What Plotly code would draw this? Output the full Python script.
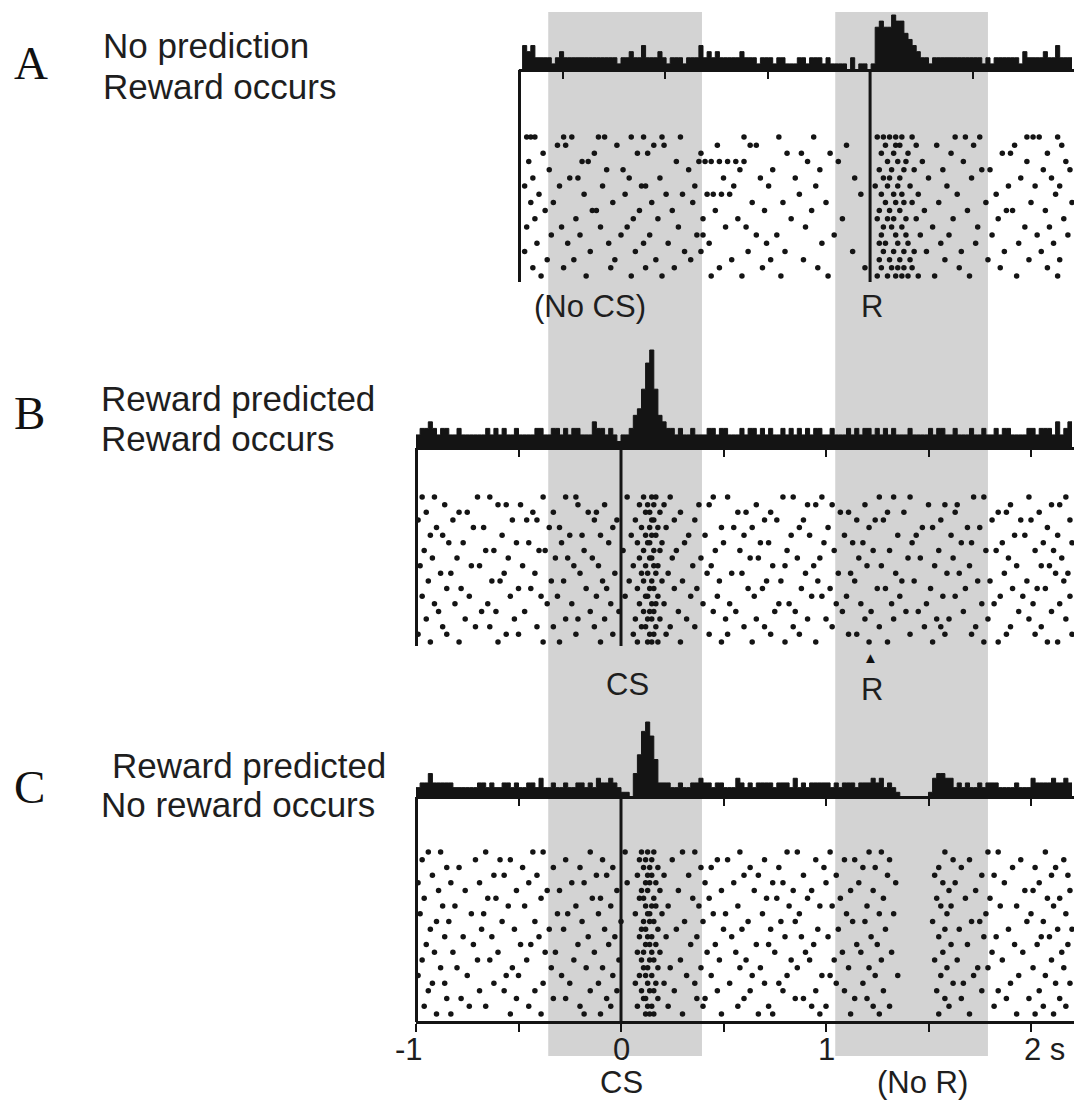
import numpy as np
import plotly.graph_objects as go

# ---------------- data (seconds, on the CS-aligned time axis) ----------------
bin_width = 0.02
band_starts = [-0.355, 1.045]
band_ends = [0.395, 1.790]
reward_time = 1.215
cs_time = 0.0
hist_ticks = [-1, -0.5, 0, 0.5, 1, 1.5, 2]
axis_ticks = [-1, -0.5, 0, 0.5, 1, 1.5, 2]
label_vals = [-1, 0, 1, 2]
label_text = ["-1", "0", "1", "2 s"]

trials_A = [
    [-0.46, -0.44, -0.42, -0.28, -0.24, -0.11, -0.08, 0.05, 0.11, 0.20, 0.29, 0.60, 0.77, 0.94, 1.25, 1.28, 1.31, 1.34, 1.37, 1.42, 1.63, 1.68, 1.75, 1.98, 2.01, 2.04, 2.13],
    [-0.31, -0.27, -0.02, 0.16, 0.21, 0.47, 0.63, 0.66, 1.10, 1.29, 1.34, 1.36, 1.44, 1.54, 1.72, 1.92, 2.15],
    [-0.38, -0.13, 0.08, 0.13, 0.39, 0.81, 0.88, 1.02, 1.27, 1.33, 1.40, 1.61, 1.86, 1.90, 2.08],
    [-0.45, -0.19, -0.16, 0.27, 0.38, 0.41, 0.44, 0.48, 0.52, 0.56, 0.60, 0.91, 1.06, 1.30, 1.35, 1.39, 1.47, 1.67, 1.98, 2.17],
    [-0.35, -0.07, 0.01, 0.33, 0.58, 0.74, 0.97, 1.26, 1.32, 1.38, 1.43, 1.57, 1.76, 1.80, 2.06, 2.19],
    [-0.43, -0.25, -0.21, 0.04, 0.19, 0.50, 0.68, 0.85, 1.14, 1.28, 1.31, 1.36, 1.50, 1.71, 1.95, 2.10],
    [-0.47, -0.30, -0.09, 0.10, 0.12, 0.36, 0.55, 0.72, 0.95, 1.24, 1.30, 1.35, 1.41, 1.59, 1.89, 2.02, 2.14],
    [-0.40, -0.18, 0.02, 0.22, 0.30, 0.42, 0.45, 0.49, 0.53, 0.87, 1.17, 1.27, 1.33, 1.37, 1.45, 1.64, 1.83, 2.12],
    [-0.44, -0.33, -0.04, 0.15, 0.35, 0.64, 0.79, 1.00, 1.29, 1.34, 1.38, 1.42, 1.55, 1.78, 2.00, 2.20],
    [-0.37, -0.14, -0.12, 0.09, 0.25, 0.46, 0.70, 0.93, 1.26, 1.31, 1.36, 1.48, 1.69, 1.88, 1.91, 2.07],
    [-0.42, -0.22, 0.06, 0.18, 0.40, 0.57, 0.83, 1.08, 1.25, 1.30, 1.33, 1.39, 1.44, 1.62, 1.84, 2.16],
    [-0.46, -0.29, -0.10, 0.03, 0.28, 0.51, 0.61, 0.90, 1.28, 1.32, 1.37, 1.52, 1.74, 1.97, 2.09],
    [-0.34, -0.20, 0.00, 0.14, 0.37, 0.40, 0.66, 0.76, 1.04, 1.27, 1.34, 1.39, 1.46, 1.60, 1.81, 2.03, 2.18],
    [-0.41, -0.26, -0.06, 0.11, 0.23, 0.43, 0.71, 0.98, 1.26, 1.29, 1.35, 1.40, 1.56, 1.73, 1.94, 2.11],
    [-0.47, -0.15, 0.07, 0.31, 0.39, 0.62, 0.80, 1.13, 1.28, 1.33, 1.38, 1.43, 1.49, 1.66, 1.87, 2.05],
    [-0.36, -0.23, -0.03, 0.17, 0.34, 0.54, 0.73, 0.89, 1.26, 1.31, 1.36, 1.41, 1.58, 1.79, 1.99, 2.14],
    [-0.43, -0.28, -0.05, 0.12, 0.26, 0.48, 0.69, 0.96, 1.19, 1.27, 1.32, 1.35, 1.38, 1.42, 1.65, 1.85, 2.08],
    [-0.39, -0.17, 0.05, 0.20, 0.44, 0.59, 0.78, 1.01, 1.25, 1.30, 1.34, 1.37, 1.40, 1.45, 1.53, 1.70, 1.93, 2.13],
]

trials_B = [
    [-0.97, -0.91, -0.70, -0.64, -0.38, -0.27, -0.22, 0.03, 0.11, 0.15, 0.17, 0.24, 0.45, 0.52, 0.79, 0.84, 0.98, 1.26, 1.33, 1.41, 1.72, 1.77, 1.99, 2.17],
    [-0.86, -0.60, -0.56, -0.49, -0.21, -0.08, 0.09, 0.13, 0.16, 0.21, 0.38, 0.43, 0.66, 0.91, 0.95, 1.03, 1.19, 1.50, 1.58, 1.64, 1.90, 2.10, 2.14],
    [-0.95, -0.79, -0.75, -0.43, -0.33, -0.16, -0.12, 0.12, 0.14, 0.19, 0.29, 0.57, 0.61, 0.73, 1.07, 1.11, 1.30, 1.38, 1.63, 1.84, 1.88, 2.04],
    [-0.99, -0.82, -0.53, -0.46, -0.41, -0.13, -0.02, 0.07, 0.15, 0.16, 0.26, 0.36, 0.70, 0.76, 0.89, 1.15, 1.24, 1.28, 1.56, 1.81, 1.95, 2.00, 2.19],
    [-0.90, -0.72, -0.67, -0.35, -0.30, -0.04, 0.10, 0.14, 0.18, 0.22, 0.49, 0.55, 0.64, 0.87, 1.01, 1.21, 1.47, 1.52, 1.69, 1.75, 2.08],
    [-0.93, -0.87, -0.58, -0.25, -0.19, -0.10, 0.05, 0.12, 0.15, 0.17, 0.33, 0.41, 0.60, 0.83, 0.92, 1.09, 1.35, 1.44, 1.61, 1.92, 1.97, 2.13],
    [-0.84, -0.77, -0.51, -0.45, -0.29, -0.06, 0.08, 0.13, 0.14, 0.20, 0.31, 0.50, 0.68, 0.72, 0.99, 1.13, 1.18, 1.42, 1.66, 1.71, 1.86, 2.06, 2.20],
    [-0.96, -0.66, -0.62, -0.40, -0.37, -0.18, 0.01, 0.11, 0.16, 0.19, 0.27, 0.46, 0.58, 0.81, 1.04, 1.23, 1.31, 1.55, 1.78, 1.83, 2.02, 2.11],
    [-0.92, -0.80, -0.55, -0.32, -0.26, -0.14, 0.09, 0.14, 0.15, 0.25, 0.39, 0.63, 0.67, 0.86, 0.97, 1.16, 1.40, 1.46, 1.62, 1.89, 2.15],
    [-0.98, -0.73, -0.69, -0.48, -0.23, -0.11, 0.06, 0.12, 0.16, 0.18, 0.35, 0.44, 0.74, 0.80, 0.94, 1.20, 1.27, 1.53, 1.70, 1.93, 2.05, 2.09],
    [-0.88, -0.83, -0.57, -0.42, -0.20, -0.03, 0.10, 0.13, 0.17, 0.23, 0.42, 0.54, 0.59, 0.90, 1.06, 1.12, 1.34, 1.59, 1.65, 1.87, 2.12, 2.18],
    [-0.94, -0.63, -0.59, -0.34, -0.28, -0.09, 0.04, 0.11, 0.15, 0.20, 0.30, 0.48, 0.71, 0.78, 0.96, 1.14, 1.37, 1.43, 1.74, 1.80, 1.98, 2.16],
    [-0.85, -0.78, -0.50, -0.44, -0.17, -0.07, 0.08, 0.14, 0.16, 0.26, 0.37, 0.62, 0.69, 0.88, 1.02, 1.25, 1.29, 1.51, 1.68, 1.91, 2.03, 2.07],
    [-0.97, -0.74, -0.54, -0.39, -0.31, -0.12, 0.02, 0.12, 0.13, 0.18, 0.34, 0.47, 0.65, 0.93, 0.98, 1.10, 1.36, 1.57, 1.63, 1.85, 1.96, 2.19],
    [-0.91, -0.81, -0.65, -0.36, -0.24, -0.05, 0.09, 0.15, 0.17, 0.21, 0.40, 0.53, 0.77, 0.82, 1.05, 1.17, 1.32, 1.49, 1.76, 1.82, 2.01, 2.14],
    [-0.89, -0.68, -0.61, -0.47, -0.15, -0.01, 0.11, 0.14, 0.16, 0.28, 0.45, 0.56, 0.75, 0.85, 1.08, 1.22, 1.39, 1.45, 1.67, 1.94, 2.10],
    [-0.95, -0.76, -0.52, -0.27, -0.21, -0.08, 0.07, 0.13, 0.15, 0.19, 0.32, 0.51, 0.66, 0.91, 1.00, 1.19, 1.33, 1.54, 1.60, 1.79, 1.99, 2.17],
    [-0.87, -0.71, -0.64, -0.41, -0.33, -0.13, 0.10, 0.12, 0.17, 0.24, 0.36, 0.60, 0.70, 0.84, 1.03, 1.26, 1.48, 1.56, 1.73, 1.90, 2.05],
    [-0.99, -0.85, -0.56, -0.50, -0.22, -0.04, 0.06, 0.14, 0.16, 0.22, 0.43, 0.52, 0.73, 0.87, 1.11, 1.15, 1.41, 1.58, 1.71, 1.88, 2.02, 2.20],
    [-0.93, -0.79, -0.60, -0.38, -0.30, -0.10, 0.08, 0.13, 0.15, 0.18, 0.29, 0.49, 0.64, 0.80, 0.95, 1.21, 1.30, 1.52, 1.77, 1.84, 2.08, 2.13],
]

trials_C = [
    [-0.94, -0.88, -0.66, -0.43, -0.38, -0.15, 0.02, 0.10, 0.13, 0.16, 0.30, 0.36, 0.58, 0.81, 0.86, 1.02, 1.21, 1.27, 1.58, 1.79, 1.84, 2.07],
    [-0.97, -0.71, -0.59, -0.54, -0.27, -0.09, 0.09, 0.12, 0.15, 0.25, 0.47, 0.52, 0.70, 0.95, 1.09, 1.14, 1.31, 1.62, 1.70, 1.95, 2.16],
    [-0.85, -0.79, -0.48, -0.33, -0.20, -0.04, 0.11, 0.14, 0.18, 0.39, 0.44, 0.63, 0.77, 0.99, 1.18, 1.24, 1.55, 1.66, 1.91, 2.02, 2.12],
    [-0.92, -0.62, -0.57, -0.41, -0.12, -0.07, 0.08, 0.13, 0.15, 0.21, 0.33, 0.60, 0.67, 0.89, 1.05, 1.30, 1.53, 1.76, 1.82, 2.10, 2.18],
    [-0.99, -0.83, -0.69, -0.45, -0.24, -0.18, 0.03, 0.12, 0.14, 0.17, 0.41, 0.55, 0.74, 0.79, 1.00, 1.16, 1.34, 1.57, 1.63, 1.87, 2.04],
    [-0.89, -0.76, -0.51, -0.36, -0.30, -0.02, 0.10, 0.13, 0.19, 0.28, 0.49, 0.65, 0.84, 0.93, 1.12, 1.23, 1.60, 1.73, 1.97, 2.01, 2.19],
    [-0.96, -0.65, -0.61, -0.39, -0.14, -0.10, 0.09, 0.11, 0.16, 0.35, 0.43, 0.71, 0.76, 0.91, 1.07, 1.28, 1.54, 1.68, 1.80, 2.08, 2.14],
    [-0.87, -0.81, -0.55, -0.47, -0.22, -0.05, 0.12, 0.15, 0.17, 0.23, 0.38, 0.57, 0.82, 0.97, 1.03, 1.20, 1.56, 1.61, 1.85, 1.93, 2.11],
    [-0.98, -0.73, -0.67, -0.31, -0.26, -0.11, 0.07, 0.13, 0.14, 0.20, 0.45, 0.51, 0.69, 0.87, 1.10, 1.26, 1.33, 1.59, 1.78, 2.00, 2.17],
    [-0.90, -0.84, -0.58, -0.42, -0.19, 0.00, 0.11, 0.14, 0.16, 0.31, 0.40, 0.62, 0.78, 0.85, 1.13, 1.19, 1.52, 1.71, 1.75, 1.98, 2.06],
    [-0.93, -0.68, -0.52, -0.35, -0.28, -0.08, 0.10, 0.12, 0.18, 0.27, 0.50, 0.59, 0.73, 0.96, 1.06, 1.29, 1.58, 1.65, 1.89, 2.13, 2.20],
    [-0.86, -0.77, -0.63, -0.40, -0.16, -0.03, 0.09, 0.13, 0.15, 0.22, 0.37, 0.54, 0.80, 0.88, 1.01, 1.22, 1.55, 1.77, 1.83, 2.05, 2.09],
    [-0.95, -0.72, -0.49, -0.44, -0.21, -0.06, 0.12, 0.14, 0.17, 0.34, 0.46, 0.66, 0.72, 0.94, 1.15, 1.25, 1.61, 1.69, 1.92, 2.03, 2.18],
    [-0.91, -0.82, -0.60, -0.37, -0.32, -0.13, 0.08, 0.11, 0.15, 0.19, 0.42, 0.56, 0.75, 0.90, 1.08, 1.17, 1.32, 1.57, 1.81, 1.96, 2.15],
    [-0.97, -0.70, -0.64, -0.46, -0.23, -0.01, 0.10, 0.14, 0.16, 0.29, 0.48, 0.61, 0.83, 0.92, 1.04, 1.27, 1.53, 1.64, 1.86, 2.10],
    [-0.88, -0.80, -0.53, -0.34, -0.17, -0.09, 0.11, 0.13, 0.18, 0.24, 0.39, 0.58, 0.68, 0.86, 1.11, 1.21, 1.59, 1.74, 1.79, 2.01, 2.16],
    [-0.99, -0.75, -0.56, -0.50, -0.29, -0.04, 0.09, 0.12, 0.15, 0.32, 0.44, 0.64, 0.81, 0.98, 1.02, 1.24, 1.35, 1.56, 1.72, 1.94, 2.07],
    [-0.92, -0.86, -0.62, -0.38, -0.25, -0.11, 0.07, 0.13, 0.17, 0.21, 0.36, 0.53, 0.70, 0.77, 1.05, 1.18, 1.62, 1.67, 1.90, 2.12, 2.19],
    [-0.94, -0.69, -0.57, -0.42, -0.15, -0.02, 0.10, 0.14, 0.16, 0.26, 0.47, 0.63, 0.79, 0.95, 1.09, 1.28, 1.54, 1.76, 1.84, 2.04],
    [-0.85, -0.78, -0.51, -0.33, -0.27, -0.07, 0.11, 0.12, 0.18, 0.37, 0.41, 0.60, 0.85, 0.89, 1.14, 1.20, 1.58, 1.66, 1.88, 1.99, 2.14],
    [-0.96, -0.74, -0.66, -0.45, -0.20, -0.05, 0.08, 0.13, 0.15, 0.23, 0.40, 0.57, 0.72, 0.93, 1.00, 1.23, 1.31, 1.60, 1.82, 2.06, 2.17],
    [-0.90, -0.83, -0.54, -0.39, -0.18, -0.10, 0.12, 0.14, 0.16, 0.30, 0.49, 0.67, 0.74, 0.97, 1.12, 1.26, 1.55, 1.70, 1.93, 2.02, 2.11],
]

# ---------------- layout geometry (pixels) ----------------
W, H = 1074, 1106
PX0, PXS = 621.0, 205.0          # pixel of t=0 and pixels per second
T_RIGHT = (W - PX0) / PXS


def px(p):
    return p / W


def py(p):
    return 1 - p / H


def xdom(t_left):
    return [(PX0 + PXS * t_left) / W, 1.0]


SANS = "Liberation Sans, Arial, Helvetica, sans-serif"
SERIF = "Liberation Serif, Times New Roman, serif"
TXT = "#1e1e1e"
INK = "#141414"

panels = [
    dict(tr=trials_A, tl=-0.5, base=70, htop=5, peak=15, r0=137, r1=276, rb=282,
         hx="x2", hy="y2", rx="x2", ry="y3", tick0=reward_time - 1.5, event=reward_time),
    dict(tr=trials_B, tl=-1.0, base=448, htop=335, peak=350, r0=497, r1=642, rb=646,
         hx="x4", hy="y4", rx="x4", ry="y5", tick0=-1.0, event=cs_time),
    dict(tr=trials_C, tl=-1.0, base=797, htop=705, peak=722, r0=852, r1=1014, rb=1022,
         hx="x6", hy="y6", rx="x7", ry="y7", tick0=-1.0, event=cs_time),
]

fig = go.Figure()
layout_axes = {}
shapes = []


def axname(ref):
    return ("xaxis" if ref[0] == "x" else "yaxis") + ref[1:]


for P in panels:
    trials = P["tr"]
    # PSTH computed from the raster
    edges = np.arange(P["tl"], T_RIGHT + 1e-9, bin_width)
    counts, _ = np.histogram(np.concatenate(trials), bins=edges)
    fig.add_trace(go.Scatter(
        x=edges, y=np.append(counts, counts[-1]), mode="lines",
        line=dict(shape="hv", color=INK, width=1), fill="tozeroy",
        fillcolor=INK, xaxis=P["hx"], yaxis=P["hy"], hoverinfo="skip", showlegend=False))
    # raster
    xs = np.concatenate(trials)
    ys = np.concatenate([[i + 1] * len(t) for i, t in enumerate(trials)])
    fig.add_trace(go.Scatter(
        x=xs, y=ys, mode="markers",
        marker=dict(size=5.5, color=INK, symbol="circle"),
        xaxis=P["rx"], yaxis=P["ry"], hoverinfo="skip", showlegend=False))

    # histogram x axis = thick baseline with downward ticks
    layout_axes[axname(P["hx"])] = dict(
        domain=xdom(P["tl"]), range=[P["tl"], T_RIGHT], anchor="free", position=py(P["base"]),
        showline=True, linewidth=3, linecolor=INK, ticks="outside", ticklen=7, tickwidth=2,
        tickcolor=INK, tick0=P["tick0"], dtick=0.5, showticklabels=False,
        showgrid=False, zeroline=False)
    peak = counts.max()
    frac = (P["base"] - P["peak"]) / (P["base"] - P["htop"])
    layout_axes[axname(P["hy"])] = dict(
        domain=[py(P["base"]), py(P["htop"])], range=[0, peak / frac], visible=False,
        anchor=P["hx"])
    # raster y axis: left border line
    n = len(trials)
    s = (P["r1"] - P["r0"]) / (n - 1)
    layout_axes[axname(P["ry"])] = dict(
        domain=[py(P["rb"]), py(P["base"])],
        range=[n + (P["rb"] - P["r1"]) / s, 1 - (P["r0"] - P["base"]) / s],
        anchor="free", position=xdom(P["tl"])[0], showline=True, linewidth=3,
        linecolor=INK, showticklabels=False, ticks="", showgrid=False, zeroline=False)
    # event line (R in A, CS in B and C)
    shapes.append(dict(type="line", xref=P["rx"], yref=P["ry"] + " domain",
                       x0=P["event"], x1=P["event"], y0=0, y1=1,
                       line=dict(color=INK, width=3)))

# bottom time axis of panel C
layout_axes["xaxis7"] = dict(
    domain=xdom(-1.0), range=[-1.0, T_RIGHT], anchor="free", position=py(1022),
    showline=True, linewidth=3, linecolor=INK, ticks="outside", ticklen=8, tickwidth=2,
    tickcolor=INK, tickvals=axis_ticks, showticklabels=False,
    showgrid=False, zeroline=False)

# gray epochs spanning all panels
for b0, b1 in zip(band_starts, band_ends):
    shapes.append(dict(type="rect", xref="x4", yref="paper", x0=b0, x1=b1,
                       y0=py(1056), y1=py(12), fillcolor="#d3d3d3", line=dict(width=0),
                       layer="below"))

ann = []


def text(x, y, t, size=35, family=SANS, xanchor="left", xref="paper", color=TXT, xshift=0):
    ann.append(dict(x=x, y=y, xref=xref, yref="paper", text=t, showarrow=False,
                    xanchor=xanchor, yanchor="middle", xshift=xshift,
                    font=dict(family=family, size=size, color=color)))


# tick labels of the time axis
for v, t in zip(label_vals, label_text):
    if t.startswith("-"):
        text(v, py(1049), t, size=31, xanchor="right", xref="x7", xshift=9)
    elif " " in t:
        text(v, py(1049), t, size=31, xanchor="left", xref="x7", xshift=-9)
    else:
        text(v, py(1049), t, size=31, xanchor="center", xref="x7")

# panel letters
text(px(31), py(63), "A", size=47, family=SERIF, xanchor="center", color="#111")
text(px(30), py(413), "B", size=47, family=SERIF, xanchor="center", color="#111")
text(px(30), py(787), "C", size=47, family=SERIF, xanchor="center", color="#111")
# condition descriptions
text(px(101), py(46), "No prediction")
text(px(101), py(86), "Reward occurs")
text(px(99), py(399), "Reward predicted")
text(px(99), py(439), "Reward occurs")
text(px(110), py(765), "Reward predicted")
text(px(99), py(804), "No reward occurs")
# event labels
text(-0.15, py(306), "(No CS)", size=31, xanchor="center", xref="x2")
text(reward_time + 0.01, py(306), "R", size=31, xanchor="center", xref="x2")
text(0.03, py(684), "CS", size=31, xanchor="center", xref="x4")
text(reward_time, py(657), "\u25B2", size=15, xanchor="center", xref="x4", color="#111")
text(reward_time + 0.01, py(690), "R", size=31, xanchor="center", xref="x4")
text(0.0, py(1082), "CS", size=31, xanchor="center", xref="x7")
text(1.47, py(1082), "(No R)", size=31, xanchor="center", xref="x7")

fig.update_layout(
    width=W, height=H, margin=dict(l=0, r=0, t=0, b=0),
    paper_bgcolor="white", plot_bgcolor="rgba(0,0,0,0)",
    xaxis=dict(visible=False, domain=[0, 1], range=[-PX0 / PXS, T_RIGHT]),
    yaxis=dict(visible=False, domain=[0, 1]),
    shapes=shapes, annotations=ann, showlegend=False,
    **layout_axes,
)

fig.write_html("out.html")
